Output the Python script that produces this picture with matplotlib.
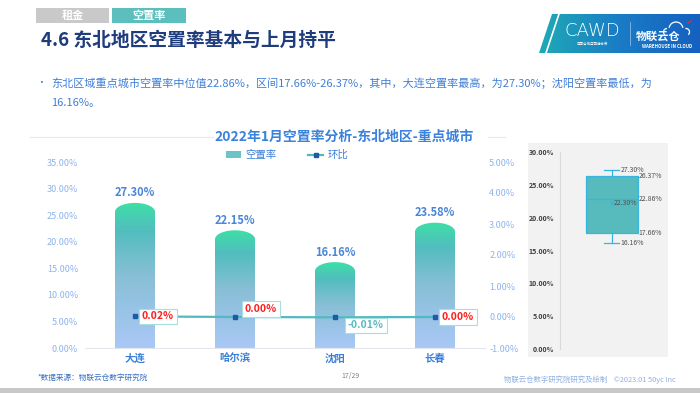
import matplotlib.pyplot as plt
import numpy as np
from matplotlib.colors import LinearSegmentedColormap
from matplotlib.lines import Line2D
from matplotlib.patches import Arc, PathPatch, Polygon, Rectangle
from matplotlib.path import Path

plt.rcParams["font.family"] = ["Noto Sans CJK SC", "DejaVu Sans"]

# data
cities = ["大连", "哈尔滨", "沈阳", "长春"]
vacancy = [27.30, 22.15, 16.16, 23.58]
mom = [0.02, 0.00, -0.01, 0.00]
mom_labels = ["0.02%", "0.00%", "-0.01%", "0.00%"]
left_ticks = [0, 5, 10, 15, 20, 25, 30, 35]
right_ticks = [-1, 0, 1, 2, 3, 4, 5]
box_ticks = [0, 5, 10, 15, 20, 25, 30]
box_stats = {"whislo": 16.16, "q1": 17.66, "med": 22.86, "q3": 26.37, "whishi": 27.30, "mean": 22.30, "fliers": []}
bullet_line1 = "东北区域重点城市空置率中位值22.86%，区间17.66%-26.37%，其中，大连空置率最高，为27.30%；沈阳空置率最低，为"
bullet_line2 = "16.16%。"

W, H = 700, 393


def fx(x):
    return x / W


def fy(y):
    return 1 - y / H


fig = plt.figure(figsize=(W / 100, H / 100), dpi=100)

# header tabs + title
fig.add_artist(Rectangle((fx(36), fy(23)), 73 / W, 15 / H, fc="#c9c9c9", ec="none", transform=fig.transFigure))
fig.add_artist(Rectangle((fx(112), fy(23)), 74 / W, 15 / H, fc="#5cbfbe", ec="none", transform=fig.transFigure))
fig.text(fx(72.5), fy(15.5), "租金", ha="center", va="center", color="white", fontsize=8, weight="bold")
fig.text(fx(149), fy(15.5), "空置率", ha="center", va="center", color="white", fontsize=8, weight="bold")
fig.text(fx(41), fy(40), "4.6 东北地区空置率基本与上月持平", ha="left", va="center",
         color="#1f3c7c", fontsize=13.5, weight="bold")

fig.text(fx(36), fy(83), "•", ha="left", va="center", color="#3f7fd8", fontsize=7)
fig.text(fx(51), fy(83), bullet_line1, ha="left", va="center", color="#3f7fd8", fontsize=8)
fig.text(fx(51), fy(103), bullet_line2, ha="left", va="center", color="#3f7fd8", fontsize=8)

# logo
lax = fig.add_axes([fx(539), fy(53), 161 / W, 39 / H])
lax.set_xlim(0, 161)
lax.set_ylim(0, 39)
lax.axis("off")
logo_cmap = LinearSegmentedColormap.from_list("logo", ["#1faab5", "#1a7cc6", "#1560c0"])
im = lax.imshow(np.linspace(0, 1, 256).reshape(1, -1), extent=[0, 161, 0, 39], cmap=logo_cmap, aspect="auto")
shape = Polygon([(0, 0), (13, 39), (161, 39), (161, 0)], closed=True, fc="none", ec="none")
lax.add_patch(shape)
im.set_clip_path(shape)
lax.plot([7, 20], [0, 39], color="white", lw=1.2)
lax.text(53, 22, "CAWD", ha="center", va="center", color="white", fontsize=13, family="DejaVu Sans", weight="light")
lax.text(53, 9, "中国仓储与配送协会", ha="center", va="center", color="white", fontsize=2.5)
lax.plot([91, 91], [8, 31], color="white", lw=0.5, alpha=0.6)
# cloud outline
lax.add_patch(Arc((137, 24), 14, 14, theta1=10, theta2=170, color="white", lw=0.9))
lax.add_patch(Arc((128, 21), 7, 7, theta1=90, theta2=230, color="white", lw=0.9))
lax.add_patch(Arc((147, 21), 7, 7, theta1=-50, theta2=100, color="white", lw=0.9))
lax.plot([149, 152], [30, 32], color="#e03030", lw=1.0)
lax.text(119, 17, "物联云仓", ha="center", va="center", color="white", fontsize=8, weight="bold")
lax.text(128, 6.5, "WAREHOUSE IN CLOUD", ha="center", va="center", color="white", fontsize=3.2, weight="bold")

# main chart
ax = fig.add_axes([fx(85), fy(348), 400 / W, 186 / H])
bar_cmap = LinearSegmentedColormap.from_list(
    "bar", [(0, "#aac8f6"), (0.5, "#88bfd6"), (0.8, "#52bdbf"), (1, "#3ddfa6")])
bw = 0.4
cap = 1.7
grad = np.linspace(0, 1, 256).reshape(-1, 1)
for i, v in enumerate(vacancy):
    th = np.linspace(np.pi, 0, 40)
    top = np.column_stack([i + bw / 2 * np.cos(th), v - cap + cap * np.sin(th)])
    verts = np.vstack([[i - bw / 2, 0], top, [i + bw / 2, 0], [i - bw / 2, 0]])
    codes = [Path.MOVETO] + [Path.LINETO] * (len(verts) - 2) + [Path.CLOSEPOLY]
    patch = PathPatch(Path(verts, codes), fc="none", ec="none", transform=ax.transData)
    ax.add_patch(patch)
    bim = ax.imshow(grad, extent=[i - bw / 2, i + bw / 2, 0, v], origin="lower", cmap=bar_cmap,
                    aspect="auto", zorder=2)
    bim.set_clip_path(patch)
    ax.annotate(f"{v:.2f}%", (i, v), xytext=(0, 10), textcoords="offset pixels", ha="center",
                va="center", fontsize=8, weight="bold", color="#4a86d8")

ax.set_xlim(-0.5, 3.5)
ax.set_ylim(0, 35)
ax.set_yticks(left_ticks)
ax.set_yticklabels([f"{t:.2f}%" for t in left_ticks])
ax.set_xticks(range(len(cities)))
ax.set_xticklabels(cities, fontsize=7.5, weight="bold", color="#3a7fd8")
ax.tick_params(axis="y", length=0, labelsize=6.5, colors="#8db4ee", pad=5)
ax.tick_params(axis="x", length=0, pad=4)
for s in ["top", "left", "right"]:
    ax.spines[s].set_visible(False)
ax.spines["bottom"].set_color("#e3e6ea")

ax2 = ax.twinx()
ax2.set_ylim(-1, 5)
ax2.set_yticks(right_ticks)
ax2.set_yticklabels([f"{t:.2f}%" for t in right_ticks])
ax2.tick_params(axis="y", length=0, labelsize=6.5, colors="#8db4ee", pad=3)
for s in ax2.spines.values():
    s.set_visible(False)
ax2.plot(range(len(cities)), mom, color="#52b9c1", lw=1.6, marker="s", ms=3,
         mfc="#1f5aa6", mec="#1f5aa6", zorder=3)
label_offsets = [(23, 0), (26, 8), (31, -8), (23, 0)]
for i, (val, lab, off) in enumerate(zip(mom, mom_labels, label_offsets)):
    col = "#5bbcc0" if val < 0 else "#ff2020"
    ax2.annotate(lab, (i, val), xytext=off, textcoords="offset pixels", ha="center", va="center",
                 fontsize=7.5, weight="bold", color=col, zorder=4,
                 bbox=dict(boxstyle="square,pad=0.25", fc="white", ec="#a8dede", lw=0.8))

handles = [Rectangle((0, 0), 1, 1, fc="#6cc4c8", ec="none"),
           Line2D([], [], color="#52b9c1", lw=1.6, marker="s", ms=3, mfc="#1f5aa6", mec="#1f5aa6")]
leg = ax2.legend(handles, ["空置率", "环比"], loc="center", bbox_to_anchor=(fx(287), fy(155)),
                 bbox_transform=fig.transFigure, ncol=2, frameon=False, fontsize=7.5,
                 handlelength=1.5, handleheight=0.55, handletextpad=0.4, columnspacing=3.0,
                 labelcolor="#3a7fd8", prop={"weight": "medium", "size": 7.5})

fig.text(fx(344), fy(137), "2022年1月空置率分析-东北地区-重点城市", ha="center", va="center",
         fontsize=10, weight="bold", color="#3b82dc")
fig.add_artist(Line2D([fx(30), fx(213)], [fy(137)] * 2, color="#e8e8e8", lw=0.8))
fig.add_artist(Line2D([fx(488), fx(505)], [fy(137)] * 2, color="#e8e8e8", lw=0.8))

# box plot panel
fig.add_artist(Rectangle((fx(528), fy(357)), 140 / W, 214 / H, fc="#f2f2f2", ec="none",
                         transform=fig.transFigure, zorder=0))
bx = fig.add_axes([fx(560), fy(349), 108 / W, 197 / H])
bx.set_facecolor("none")
pos, wid, capw = 0.48, 0.48, 0.14
edge = "#35b5e0"
bx.bxp([box_stats], positions=[pos], widths=wid, capwidths=[capw], patch_artist=True, showmeans=True,
       showfliers=False, manage_ticks=False,
       boxprops=dict(fc="#57babd", ec=edge, lw=0.9),
       medianprops=dict(color=edge, lw=0.9),
       whiskerprops=dict(color=edge, lw=0.9),
       capprops=dict(color=edge, lw=0.9),
       meanprops=dict(marker="x", mec=edge, ms=3.5, mew=0.8))
bx.set_xlim(0, 1)
bx.set_ylim(0, 30)
bx.set_xticks([])
bx.set_yticks(box_ticks)
bx.set_yticklabels([f"{t:.2f}%" for t in box_ticks], weight="bold")
bx.tick_params(axis="y", length=0, labelsize=5, colors="#404040", pad=4)
for s in ["top", "right", "bottom"]:
    bx.spines[s].set_visible(False)
bx.spines["left"].set_color("#d9d9d9")
bx.spines["left"].set_linewidth(0.8)
tkw = dict(ha="left", va="center", fontsize=5, color="#505050")
bx.text(pos + capw / 2 + 0.01, box_stats["whishi"], f"{box_stats['whishi']:.2f}%", **tkw)
bx.text(pos + wid / 2 + 0.005, box_stats["q3"], f"{box_stats['q3']:.2f}%", **tkw)
bx.text(pos + wid / 2 + 0.005, box_stats["med"], f"{box_stats['med']:.2f}%", **tkw)
bx.text(pos + 0.02, box_stats["mean"], f"{box_stats['mean']:.2f}%", **tkw)
bx.text(pos + wid / 2 + 0.005, box_stats["q1"], f"{box_stats['q1']:.2f}%", **tkw)
bx.text(pos + capw / 2 + 0.01, box_stats["whislo"], f"{box_stats['whislo']:.2f}%", **tkw)

# footer
fig.text(fx(37), fy(378), "*数据来源：物联云仓数字研究院", ha="left", va="center", fontsize=5.5, color="#3a6fc0")
fig.text(fx(350), fy(376), "17/29", ha="center", va="center", fontsize=5, color="#808080")
fig.text(fx(676), fy(380), "物联云仓数字研究院研究及绘制    ©2023.01 50yc Inc", ha="right", va="center",
         fontsize=5.3, color="#8fb0e0")
fig.add_artist(Rectangle((0, 0), 1, 5 / H, fc="#c8c8c8", ec="none", transform=fig.transFigure))

fig.savefig("out.png", dpi=100)
